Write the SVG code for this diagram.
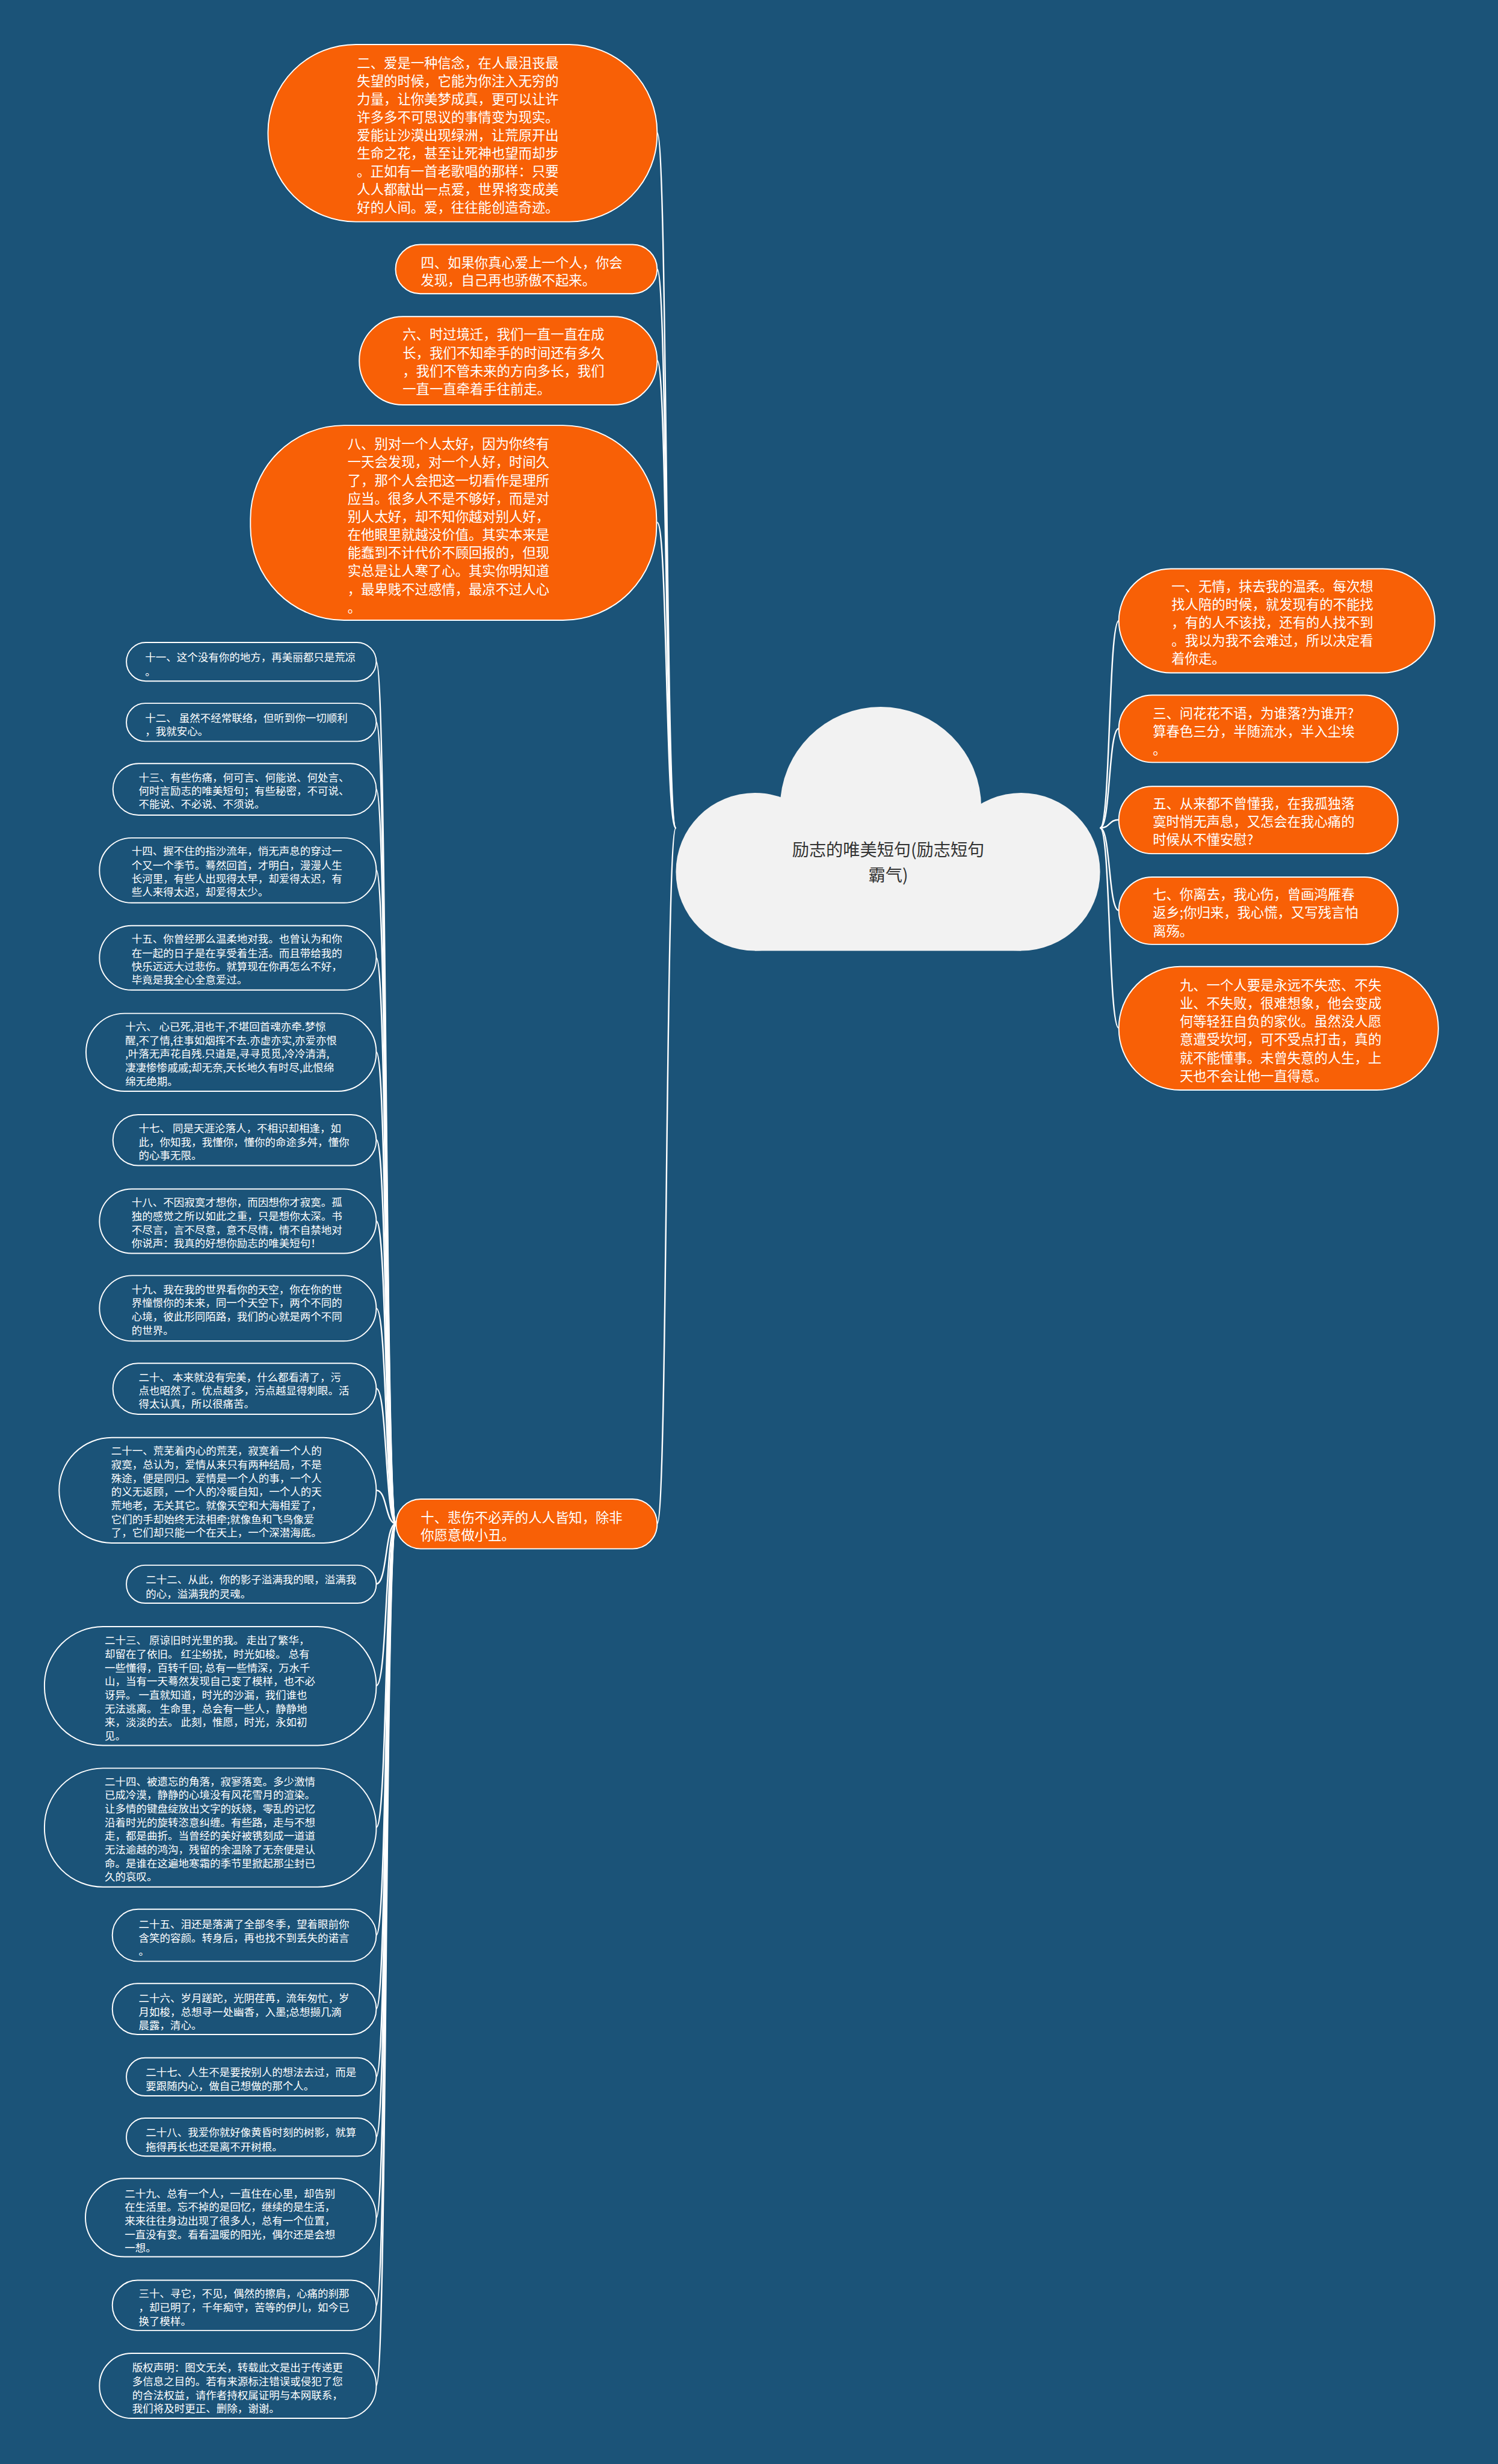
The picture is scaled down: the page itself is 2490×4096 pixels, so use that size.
<svg xmlns="http://www.w3.org/2000/svg" width="2490" height="4096" viewBox="0 0 2490 4096">
<style>
.o rect{fill:#f86006;stroke:#fff;stroke-width:2}
.b rect{fill:#1b5378;stroke:#fff;stroke-width:2}
text{font-family:"Noto Sans CJK SC","Noto Sans",sans-serif;fill:#fff;dominant-baseline:central}
.t23{font-size:23px}
.t18{font-size:18px}
.c{fill:#333;font-size:29px;text-anchor:middle}
.lk path{fill:none;stroke:#fff;stroke-width:2.5}
</style>
<rect width="2490" height="4096" fill="#1b5378"/>
<g transform="scale(0.97266)">
<g id="connectors" class="lk">
<path d="M1880 1415 C1898 1415 1894 1061 1912 1061"/>
<path d="M1880 1415 C1898 1415 1894 1245 1912 1245"/>
<path d="M1880 1415 C1898 1415 1894 1401 1912 1401"/>
<path d="M1880 1415 C1898 1415 1894 1556 1912 1556"/>
<path d="M1880 1415 C1898 1415 1894 1757 1912 1757"/>
<path d="M1155 1415 C1137 1415 1141 227 1123 227"/>
<path d="M1155 1415 C1137 1415 1141 460 1123 460"/>
<path d="M1155 1415 C1137 1415 1141 616 1123 616"/>
<path d="M1155 1415 C1137 1415 1141 893 1123 893"/>
<path d="M1155 1415 C1137 1415 1141 2604 1123 2604"/>
<path d="M677 2604 C658 2604 662 1131 643 1131"/>
<path d="M677 2604 C658 2604 662 1234 643 1234"/>
<path d="M677 2604 C658 2604 662 1349 643 1349"/>
<path d="M677 2604 C658 2604 662 1487 643 1487"/>
<path d="M677 2604 C658 2604 662 1637 643 1637"/>
<path d="M677 2604 C658 2604 662 1798 643 1798"/>
<path d="M677 2604 C658 2604 662 1948 643 1948"/>
<path d="M677 2604 C658 2604 662 2087 643 2087"/>
<path d="M677 2604 C658 2604 662 2236 643 2236"/>
<path d="M677 2604 C658 2604 662 2373 643 2373"/>
<path d="M677 2604 C658 2604 662 2547 643 2547"/>
<path d="M677 2604 C658 2604 662 2707 643 2707"/>
<path d="M677 2604 C658 2604 662 2881 643 2881"/>
<path d="M677 2604 C658 2604 662 3123 643 3123"/>
<path d="M677 2604 C658 2604 662 3307 643 3307"/>
<path d="M677 2604 C658 2604 662 3433 643 3433"/>
<path d="M677 2604 C658 2604 662 3549 643 3549"/>
<path d="M677 2604 C658 2604 662 3652 643 3652"/>
<path d="M677 2604 C658 2604 662 3790 643 3790"/>
<path d="M677 2604 C658 2604 662 3940 643 3940"/>
<path d="M677 2604 C658 2604 662 4077 643 4077"/>
</g>
<g id="root">
<g fill="#f2f2f2">
<circle cx="1290" cy="1490" r="135"/>
<circle cx="1505" cy="1380" r="172"/>
<circle cx="1745" cy="1490" r="135"/>
<rect x="1290" y="1440" width="455" height="185"/>
</g>
<text class="c"><tspan x="1518" y="1450">励志的唯美短句(励志短句</tspan><tspan x="1518" y="1493">霸气)</tspan></text>
</g>
<g id="n2" class="o"><rect x="458" y="76" width="665" height="303" rx="150"/>
<text class="t23"><tspan x="610" y="106">二、爱是一种信念，在人最沮丧最</tspan><tspan x="610" y="136.8">失望的时候，它能为你注入无穷的</tspan><tspan x="610" y="167.6">力量，让你美梦成真，更可以让许</tspan><tspan x="610" y="198.4">许多多不可思议的事情变为现实。</tspan><tspan x="610" y="229.2">爱能让沙漠出现绿洲，让荒原开出</tspan><tspan x="610" y="260">生命之花，甚至让死神也望而却步</tspan><tspan x="610" y="290.8">。正如有一首老歌唱的那样：只要</tspan><tspan x="610" y="321.6">人人都献出一点爱，世界将变成美</tspan><tspan x="610" y="352.4">好的人间。爱，往往能创造奇迹。</tspan></text></g>
<g id="n4" class="o"><rect x="676" y="418" width="447" height="84" rx="42"/>
<text class="t23"><tspan x="719" y="447">四、如果你真心爱上一个人，你会</tspan><tspan x="719" y="477">发现，自己再也骄傲不起来。</tspan></text></g>
<g id="n6" class="o"><rect x="614" y="541" width="509" height="151" rx="75"/>
<text class="t23"><tspan x="688" y="570">六、时过境迁，我们一直一直在成</tspan><tspan x="688" y="601">长，我们不知牵手的时间还有多久</tspan><tspan x="688" y="632">，我们不管未来的方向多长，我们</tspan><tspan x="688" y="663">一直一直牵着手往前走。</tspan></text></g>
<g id="n8" class="o"><rect x="428" y="727" width="694" height="333" rx="160"/>
<text class="t23"><tspan x="594" y="757">八、别对一个人太好，因为你终有</tspan><tspan x="594" y="788">一天会发现，对一个人好，时间久</tspan><tspan x="594" y="819">了，那个人会把这一切看作是理所</tspan><tspan x="594" y="850">应当。很多人不是不够好，而是对</tspan><tspan x="594" y="881">别人太好，却不知你越对别人好，</tspan><tspan x="594" y="912">在他眼里就越没价值。其实本来是</tspan><tspan x="594" y="943">能蠢到不计代价不顾回报的，但现</tspan><tspan x="594" y="974">实总是让人寒了心。其实你明知道</tspan><tspan x="594" y="1005">，最卑贱不过感情，最凉不过人心</tspan><tspan x="594" y="1036">。</tspan></text></g>
<g id="n1" class="o"><rect x="1912" y="972" width="540" height="178" rx="89"/>
<text class="t23"><tspan x="2002" y="1000">一、无情，抹去我的温柔。每次想</tspan><tspan x="2002" y="1031">找人陪的时候，就发现有的不能找</tspan><tspan x="2002" y="1062">，有的人不该找，还有的人找不到</tspan><tspan x="2002" y="1093">。我以为我不会难过，所以决定看</tspan><tspan x="2002" y="1124">着你走。</tspan></text></g>
<g id="n3" class="o"><rect x="1912" y="1188" width="477" height="115" rx="57"/>
<text class="t23"><tspan x="1970" y="1217">三、问花花不语，为谁落?为谁开?</tspan><tspan x="1970" y="1248">算春色三分，半随流水，半入尘埃</tspan><tspan x="1970" y="1279">。</tspan></text></g>
<g id="n5" class="o"><rect x="1912" y="1344" width="477" height="115" rx="57"/>
<text class="t23"><tspan x="1970" y="1371">五、从来都不曾懂我，在我孤独落</tspan><tspan x="1970" y="1402">寞时悄无声息，又怎会在我心痛的</tspan><tspan x="1970" y="1433">时候从不懂安慰?</tspan></text></g>
<g id="n7" class="o"><rect x="1912" y="1499" width="477" height="115" rx="57"/>
<text class="t23"><tspan x="1970" y="1527">七、你离去，我心伤，曾画鸿雁春</tspan><tspan x="1970" y="1558">返乡;你归来，我心慌，又写残言怕</tspan><tspan x="1970" y="1589">离殇。</tspan></text></g>
<g id="n9" class="o"><rect x="1912" y="1652" width="546" height="211" rx="105"/>
<text class="t23"><tspan x="2016" y="1682">九、一个人要是永远不失恋、不失</tspan><tspan x="2016" y="1713">业、不失败，很难想象，他会变成</tspan><tspan x="2016" y="1744">何等轻狂自负的家伙。虽然没人愿</tspan><tspan x="2016" y="1775">意遭受坎坷，可不受点打击，真的</tspan><tspan x="2016" y="1806">就不能懂事。未曾失意的人生，上</tspan><tspan x="2016" y="1837">天也不会让他一直得意。</tspan></text></g>
<g id="n10" class="o"><rect x="677" y="2562" width="446" height="85" rx="42"/>
<text class="t23"><tspan x="719" y="2592">十、悲伤不必弄的人人皆知，除非</tspan><tspan x="719" y="2622">你愿意做小丑。</tspan></text></g>
<g id="n11" class="b"><rect x="216" y="1098" width="427" height="66" rx="33"/>
<text class="t18"><tspan x="248" y="1122">十一、这个没有你的地方，再美丽都只是荒凉</tspan><tspan x="248" y="1146">。</tspan></text></g>
<g id="n12" class="b"><rect x="216" y="1202" width="427" height="65" rx="32"/>
<text class="t18"><tspan x="248" y="1225">十二、 虽然不经常联络，但听到你一切顺利</tspan><tspan x="248" y="1248">，我就安心。</tspan></text></g>
<g id="n13" class="b"><rect x="193" y="1305" width="450" height="88" rx="44"/>
<text class="t18"><tspan x="237" y="1327">十三、有些伤痛，何可言、何能说、何处言、</tspan><tspan x="237" y="1350">何时言励志的唯美短句；有些秘密，不可说、</tspan><tspan x="237" y="1373">不能说、不必说、不须说。</tspan></text></g>
<g id="n14" class="b"><rect x="170" y="1432" width="473" height="111" rx="55"/>
<text class="t18"><tspan x="225" y="1453">十四、握不住的指沙流年，悄无声息的穿过一</tspan><tspan x="225" y="1477">个又一个季节。蓦然回首，才明白，漫漫人生</tspan><tspan x="225" y="1500">长河里，有些人出现得太早，却爱得太迟，有</tspan><tspan x="225" y="1523">些人来得太迟，却爱得太少。</tspan></text></g>
<g id="n15" class="b"><rect x="170" y="1582" width="473" height="110" rx="55"/>
<text class="t18"><tspan x="225" y="1603">十五、你曾经那么温柔地对我。也曾认为和你</tspan><tspan x="225" y="1627">在一起的日子是在享受着生活。而且带给我的</tspan><tspan x="225" y="1650">快乐远远大过悲伤。就算现在你再怎么不好，</tspan><tspan x="225" y="1673">毕竟是我全心全意爱过。</tspan></text></g>
<g id="n16" class="b"><rect x="147" y="1732" width="496" height="133" rx="66"/>
<text class="t18"><tspan x="214" y="1753">十六、 心已死,泪也干,不堪回首魂亦牵.梦惊</tspan><tspan x="214" y="1776.3">醒,不了情,往事如烟挥不去.亦虚亦实,亦爱亦恨</tspan><tspan x="214" y="1799.6">,叶落无声花自残.只道是,寻寻觅觅,冷冷清清,</tspan><tspan x="214" y="1822.9">凄凄惨惨戚戚;却无奈,天长地久有时尽,此恨绵</tspan><tspan x="214" y="1846.2">绵无绝期。</tspan></text></g>
<g id="n17" class="b"><rect x="193" y="1905" width="450" height="87" rx="43"/>
<text class="t18"><tspan x="237" y="1927">十七、 同是天涯沦落人，不相识却相逢，如</tspan><tspan x="237" y="1950">此，你知我，我懂你，懂你的命途多舛，懂你</tspan><tspan x="237" y="1973">的心事无限。</tspan></text></g>
<g id="n18" class="b"><rect x="170" y="2032" width="473" height="110" rx="55"/>
<text class="t18"><tspan x="225" y="2053">十八、不因寂寞才想你，而因想你才寂寞。孤</tspan><tspan x="225" y="2077">独的感觉之所以如此之重，只是想你太深。书</tspan><tspan x="225" y="2100">不尽言，言不尽意，意不尽情，情不自禁地对</tspan><tspan x="225" y="2123">你说声：我真的好想你励志的唯美短句！</tspan></text></g>
<g id="n19" class="b"><rect x="170" y="2180" width="473" height="112" rx="56"/>
<text class="t18"><tspan x="225" y="2202">十九、我在我的世界看你的天空，你在你的世</tspan><tspan x="225" y="2225">界憧憬你的未来，同一个天空下，两个不同的</tspan><tspan x="225" y="2248">心境，彼此形同陌路，我们的心就是两个不同</tspan><tspan x="225" y="2272">的世界。</tspan></text></g>
<g id="n20" class="b"><rect x="193" y="2330" width="450" height="87" rx="43"/>
<text class="t18"><tspan x="237" y="2352">二十、 本来就没有完美，什么都看清了，污</tspan><tspan x="237" y="2375">点也昭然了。优点越多，污点越显得刺眼。活</tspan><tspan x="237" y="2398">得太认真，所以很痛苦。</tspan></text></g>
<g id="n21" class="b"><rect x="101" y="2457" width="542" height="180" rx="90"/>
<text class="t18"><tspan x="190" y="2478">二十一、荒芜着内心的荒芜，寂寞着一个人的</tspan><tspan x="190" y="2501.3">寂寞，总认为，爱情从来只有两种结局，不是</tspan><tspan x="190" y="2524.6">殊途，便是同归。爱情是一个人的事，一个人</tspan><tspan x="190" y="2547.9">的义无返顾，一个人的冷暖自知，一个人的天</tspan><tspan x="190" y="2571.2">荒地老，无关其它。就像天空和大海相爱了，</tspan><tspan x="190" y="2594.5">它们的手却始终无法相牵;就像鱼和飞鸟像爱</tspan><tspan x="190" y="2617.8">了，它们却只能一个在天上，一个深潜海底。</tspan></text></g>
<g id="n22" class="b"><rect x="216" y="2675" width="427" height="65" rx="32"/>
<text class="t18"><tspan x="249" y="2698">二十二、从此，你的影子溢满我的眼，溢满我</tspan><tspan x="249" y="2722">的心，溢满我的灵魂。</tspan></text></g>
<g id="n23" class="b"><rect x="76" y="2780" width="567" height="203" rx="100"/>
<text class="t18"><tspan x="179" y="2802">二十三、 原谅旧时光里的我。 走出了繁华，</tspan><tspan x="179" y="2825.3">却留在了依旧。 红尘纷扰，时光如梭。 总有</tspan><tspan x="179" y="2848.6">一些懂得，百转千回; 总有一些情深，万水千</tspan><tspan x="179" y="2871.9">山，当有一天蓦然发现自己变了模样，也不必</tspan><tspan x="179" y="2895.2">讶异。 一直就知道，时光的沙漏，我们谁也</tspan><tspan x="179" y="2918.5">无法逃离。 生命里，总会有一些人，静静地</tspan><tspan x="179" y="2941.8">来，淡淡的去。 此刻，惟愿，时光，永如初</tspan><tspan x="179" y="2965.1">见。</tspan></text></g>
<g id="n24" class="b"><rect x="76" y="3022" width="567" height="203" rx="100"/>
<text class="t18"><tspan x="179" y="3043">二十四、被遗忘的角落，寂寥落寞。多少激情</tspan><tspan x="179" y="3066.3">已成冷漠，静静的心境没有风花雪月的渲染。</tspan><tspan x="179" y="3089.6">让多情的键盘绽放出文字的妖娆，零乱的记忆</tspan><tspan x="179" y="3112.9">沿着时光的旋转恣意纠缠。有些路，走与不想</tspan><tspan x="179" y="3136.2">走，都是曲折。当曾经的美好被镌刻成一道道</tspan><tspan x="179" y="3159.5">无法逾越的鸿沟，残留的余温除了无奈便是认</tspan><tspan x="179" y="3182.8">命。是谁在这遍地寒霜的季节里掀起那尘封已</tspan><tspan x="179" y="3206.1">久的哀叹。</tspan></text></g>
<g id="n25" class="b"><rect x="192" y="3263" width="451" height="89" rx="44"/>
<text class="t18"><tspan x="237" y="3287">二十五、泪还是落满了全部冬季，望着眼前你</tspan><tspan x="237" y="3310">含笑的容颜。转身后，再也找不到丢失的诺言</tspan><tspan x="237" y="3333">。</tspan></text></g>
<g id="n26" class="b"><rect x="192" y="3390" width="451" height="87" rx="43"/>
<text class="t18"><tspan x="237" y="3413">二十六、岁月蹉跎，光阴荏苒，流年匆忙，岁</tspan><tspan x="237" y="3437">月如梭，总想寻一处幽香，入墨;总想撷几滴</tspan><tspan x="237" y="3460">晨露，清心。</tspan></text></g>
<g id="n27" class="b"><rect x="216" y="3517" width="427" height="65" rx="32"/>
<text class="t18"><tspan x="249" y="3540">二十七、人生不是要按别人的想法去过，而是</tspan><tspan x="249" y="3563">要跟随内心，做自己想做的那个人。</tspan></text></g>
<g id="n28" class="b"><rect x="216" y="3620" width="427" height="65" rx="32"/>
<text class="t18"><tspan x="249" y="3643">二十八、我爱你就好像黄昏时刻的树影，就算</tspan><tspan x="249" y="3667">拖得再长也还是离不开树根。</tspan></text></g>
<g id="n29" class="b"><rect x="146" y="3723" width="497" height="134" rx="67"/>
<text class="t18"><tspan x="213" y="3747">二十九、总有一个人，一直住在心里，却告别</tspan><tspan x="213" y="3770.3">在生活里。忘不掉的是回忆，继续的是生活，</tspan><tspan x="213" y="3793.6">来来往往身边出现了很多人，总有一个位置，</tspan><tspan x="213" y="3816.9">一直没有变。看看温暖的阳光，偶尔还是会想</tspan><tspan x="213" y="3840.2">一想。</tspan></text></g>
<g id="n30" class="b"><rect x="192" y="3897" width="451" height="86" rx="43"/>
<text class="t18"><tspan x="237" y="3918">三十、寻它，不见，偶然的擦肩，心痛的刹那</tspan><tspan x="237" y="3942">，却已明了，千年痴守，苦等的伊儿，如今已</tspan><tspan x="237" y="3965">换了模样。</tspan></text></g>
<g id="ncopy" class="b"><rect x="170" y="4022" width="473" height="111" rx="55"/>
<text class="t18"><tspan x="226" y="4045">版权声明：图文无关，转载此文是出于传递更</tspan><tspan x="226" y="4068">多信息之目的。若有来源标注错误或侵犯了您</tspan><tspan x="226" y="4092">的合法权益，请作者持权属证明与本网联系，</tspan><tspan x="226" y="4115">我们将及时更正、删除，谢谢。</tspan></text></g>
</g>
</svg>
